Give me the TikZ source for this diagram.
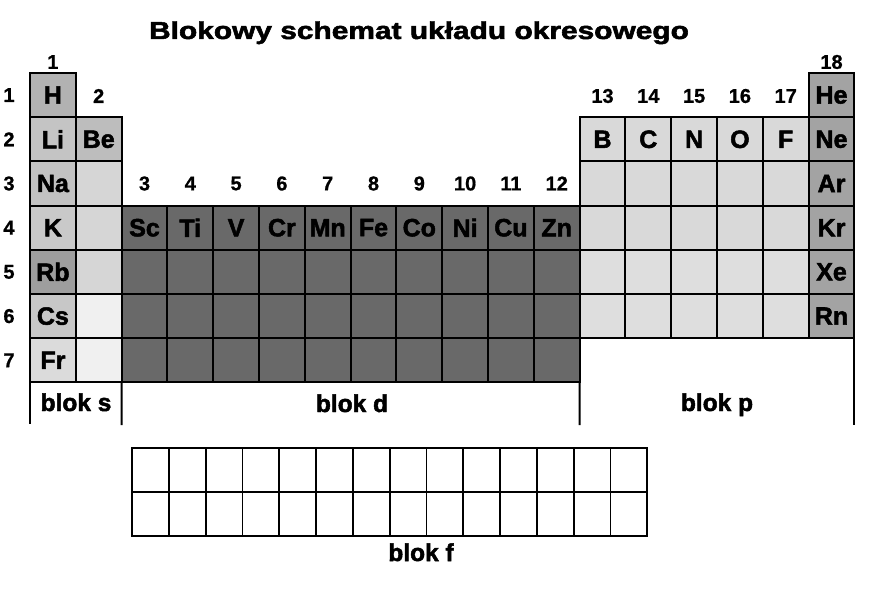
\documentclass[tikz,border=0pt]{standalone}
\usepackage{fontspec}
\setmainfont{Liberation Sans}
\newfontfamily\hv{Liberation Sans Bold}[FakeBold=2]
\newfontfamily\hn{Liberation Sans Bold}[FakeBold=0.8]
\usepackage{graphicx}
\definecolor{gH}{gray}{0.70}
\definecolor{gLi}{gray}{0.77}
\definecolor{gNa}{gray}{0.76}
\definecolor{gK}{gray}{0.79}
\definecolor{gRb}{gray}{0.62}
\definecolor{gCs}{gray}{0.78}
\definecolor{gFr}{gray}{0.86}
\definecolor{gBe}{gray}{0.74}
\definecolor{gsmid}{gray}{0.84}
\definecolor{gslow}{gray}{0.94}
\definecolor{dblk}{gray}{0.41}
\definecolor{pblk}{gray}{0.85}
\definecolor{pblklow}{gray}{0.87}
\definecolor{noble}{gray}{0.64}
\tikzset{
  cell/.style={draw=black, line width=2pt, minimum width=45.8pt, minimum height=44.2pt,
    inner sep=0pt, outer sep=0pt, anchor=north west, font=\hv\fontsize{25}{25}\selectfont},
  fcell/.style={draw=black, line width=1.8pt, fill=white, minimum width=36.8pt, minimum height=44pt,
    inner sep=0pt, outer sep=0pt, anchor=north west},
  grp/.style={font=\hn\fontsize{20}{20}\selectfont, inner sep=0pt},
  blk/.style={font=\hv\fontsize{24.5}{24.5}\selectfont, inner sep=0pt, anchor=base},
  blockline/.style={draw=black, line width=2pt}
}
\begin{document}
\begin{tikzpicture}[x=1pt,y=-1pt]
\useasboundingbox (0,0) rectangle (875,591);
% title
\node[font=\hv\fontsize{24.5}{24.5}\selectfont, inner sep=0pt, anchor=base] (title) at (419,39)
  {\scalebox{1.22}[1]{Blokowy schemat układu okresowego}};
% s-block column 1
\foreach \r/\s/\f in {1/H/gH,2/Li/gLi,3/Na/gNa,4/K/gK,5/Rb/gRb,6/Cs/gCs,7/Fr/gFr}
  \node[cell, fill=\f] (c1r\r) at (30,{73+(\r-1)*44.2}) {\s};
% s-block column 2
\foreach \r/\s/\f in {2/Be/gBe,3//gsmid,4//gsmid,5//gsmid,6//gslow,7//gslow}
  \node[cell, fill=\f] (c2r\r) at (75.8,{73+(\r-1)*44.2}) {\s};
% d-block
\foreach \c/\s in {3/Sc,4/Ti,5/V,6/Cr,7/Mn,8/Fe,9/Co,10/Ni,11/Cu,12/Zn}
  \node[cell, fill=dblk] (c\c r4) at ({30+(\c-1)*45.8},205.6) {\s};
\foreach \c in {3,...,12}
  \foreach \r in {5,6,7}
    \node[cell, fill=dblk] (c\c r\r) at ({30+(\c-1)*45.8},{73+(\r-1)*44.2}) {};
% p-block
\foreach \c/\s in {13/B,14/C,15/N,16/O,17/F}
  \node[cell, fill=pblk] (c\c r2) at ({30+(\c-1)*45.8},117.2) {\s};
\foreach \c in {13,...,17}
  \foreach \r/\f in {3/pblk,4/pblk,5/pblklow,6/pblklow}
    \node[cell, fill=\f] (c\c r\r) at ({30+(\c-1)*45.8},{73+(\r-1)*44.2}) {};
\foreach \r/\s in {1/He,2/Ne,3/Ar,4/Kr,5/Xe,6/Rn}
  \node[cell, fill=noble] (c18r\r) at (808.6,{73+(\r-1)*44.2}) {\s};
% group numbers
\node[grp] (g1) at (52.9,62) {1};
\node[grp] (g2) at (98.7,96) {2};
\foreach \c in {3,...,12}
  \node[grp] (g\c) at ({30+(\c-0.5)*45.8},183.5) {\c};
\foreach \c in {13,...,17}
  \node[grp] (g\c) at ({30+(\c-0.5)*45.8},96) {\c};
\node[grp] (g18) at (831.5,62) {18};
% period numbers
\foreach \r in {1,...,7}
  \node[grp] (p\r) at (9,{73+(\r-0.5)*44.2}) {\r};
% block separators
\coordinate (sL) at (30,424);
\coordinate (sR) at (121.6,425);
\coordinate (dR) at (579.6,425);
\coordinate (pR) at (854.4,425);
\draw[blockline] (c1r7.south west) -- (sL);
\draw[blockline] (c2r7.south east) -- (sR);
\draw[blockline] (c12r7.south east) -- (dR);
\draw[blockline] (c18r6.south east) -- (pR);
\node[blk] (bs) at (76,411) {blok s};
\node[blk] (bd) at (352,412) {blok d};
\node[blk] (bp) at (717,411) {blok p};
% f-block
\foreach \c in {1,...,14}
  \foreach \r in {1,2}
    \node[fcell] (f\c r\r) at ({132+(\c-1)*36.8},{448+(\r-1)*44}) {};
\node[blk] (bf) at (421,561) {blok f};
\end{tikzpicture}
\end{document}
